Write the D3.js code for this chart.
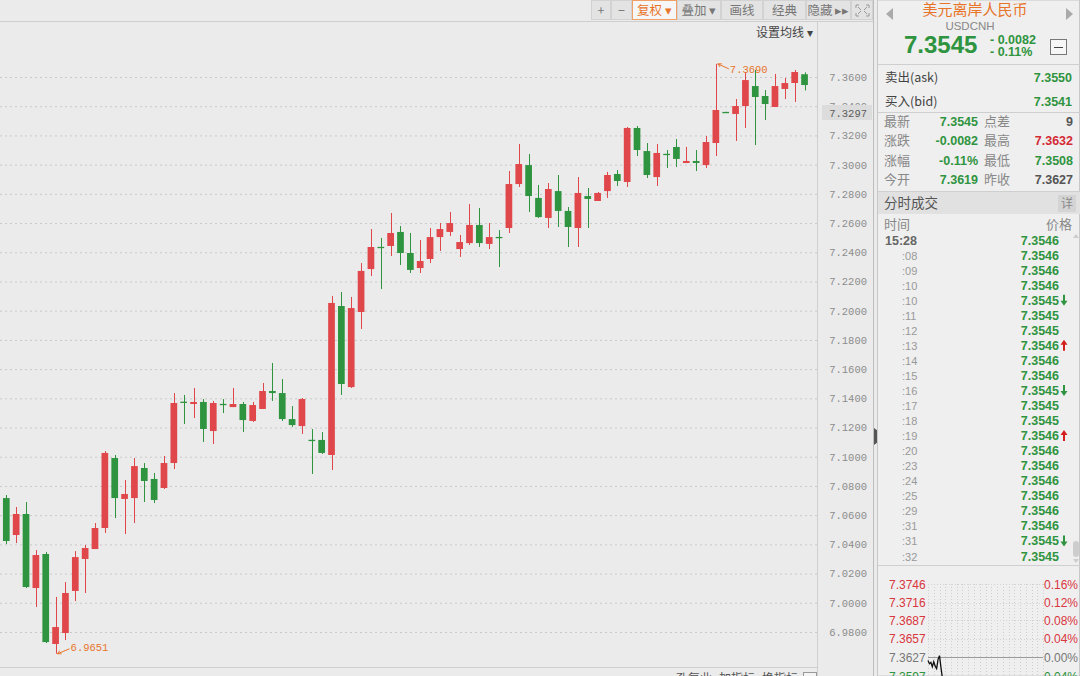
<!DOCTYPE html>
<html>
<head>
<meta charset="utf-8">
<script src="https://d3js.org/d3.v7.min.js"></script>
<style>
  body { margin: 0; background: #ebebeb; overflow: hidden; }
  svg { display: block; }
</style>
</head>
<body>
<svg width="1080" height="676"></svg>
<script>
  // daily candles, USDCNH (red = up, green = down)
  const opens  = [7.0957,7.0717,7.0464,7.0608,7.0101,7.0334,6.9718,6.9793,7.0081,7.0300,
                  7.0368,7.0512,7.0991,7.0711,7.0717,7.0923,7.0848,7.0786,7.0957,7.1377,
                  7.1361,7.1375,7.1176,7.1362,7.1340,7.1361,7.1245,7.1327,7.1450,7.1436,
                  7.1258,7.1210,7.1116,7.1115,7.1012,7.2032,7.1477,7.1991,7.2285,7.2437,
                  7.2443,7.2539,7.2395,7.2292,7.2354,7.2504,7.2539,7.2422,7.2463,7.2587,
                  7.2457,7.2505,7.2566,7.2867,7.2997,7.2772,7.2635,7.2819,7.2683,7.2566,
                  7.2785,7.2751,7.2819,7.2936,7.2881,7.3251,7.3093,7.2915,7.3074,7.3121,
                  7.3011,7.3025,7.2997,7.3148,7.3361,7.3347,7.3401,7.3538,7.3470,7.3395,
                  7.3518,7.3559,7.3619];
  const highs  = [7.0978,7.0738,7.0656,7.0690,7.0361,7.0348,7.0040,7.0142,7.0354,7.0396,
                  7.0546,7.1039,7.1012,7.0841,7.0991,7.0957,7.0889,7.1005,7.1436,7.1423,
                  7.1471,7.1395,7.1382,7.1395,7.1471,7.1375,7.1375,7.1505,7.1642,7.1532,
                  7.1347,7.1402,7.1190,7.1169,7.2101,7.2128,7.2094,7.2326,7.2559,7.2498,
                  7.2669,7.2580,7.2532,7.2484,7.2566,7.2600,7.2676,7.2518,7.2730,7.2703,
                  7.2600,7.2552,7.2956,7.3141,7.3073,7.2861,7.2874,7.2929,7.2710,7.2915,
                  7.2840,7.2813,7.2950,7.2963,7.3258,7.3264,7.3148,7.3141,7.3100,7.3175,
                  7.3121,7.3100,7.3196,7.3690,7.3362,7.3449,7.3634,7.3648,7.3511,7.3621,
                  7.3593,7.3648,7.3632];
  const lows   = [7.0669,7.0402,7.0409,7.0101,6.9971,6.9724,6.9651,6.9745,7.0012,7.0067,
                  7.0368,7.0478,7.0580,7.0471,7.0546,7.0690,7.0683,7.0779,7.0916,7.1224,
                  7.1265,7.1101,7.1087,7.1299,7.1340,7.1169,7.1238,7.1327,7.1382,7.1245,
                  7.1204,7.1156,7.0882,7.1019,7.0909,7.1423,7.1471,7.1875,7.2237,7.2148,
                  7.2374,7.2313,7.2258,7.2258,7.2326,7.2409,7.2511,7.2368,7.2450,7.2436,
                  7.2422,7.2299,7.2532,7.2847,7.2676,7.2635,7.2566,7.2573,7.2436,7.2436,
                  7.2566,7.2751,7.2772,7.2854,7.2847,7.3059,7.2908,7.2854,7.2977,7.2984,
                  7.3011,7.2956,7.2977,7.3059,7.3358,7.3162,7.3251,7.3134,7.3306,7.3395,
                  7.3449,7.3429,7.3508];
  const closes = [7.0717,7.0423,7.0608,7.0108,7.0327,6.9731,6.9834,7.0067,7.0313,7.0375,
                  7.0512,7.1026,7.0717,7.0745,7.0936,7.0834,7.0704,7.0957,7.1368,7.1373,
                  7.1375,7.1190,7.1368,7.1360,7.1361,7.1251,7.1354,7.1450,7.1436,7.1258,
                  7.1217,7.1395,7.1114,7.1026,7.2053,7.1498,7.2018,7.2272,7.2436,7.2435,
                  7.2532,7.2395,7.2279,7.2340,7.2504,7.2559,7.2600,7.2470,7.2587,7.2463,
                  7.2504,7.2503,7.2867,7.3004,7.2785,7.2641,7.2833,7.2683,7.2573,7.2806,
                  7.2765,7.2806,7.2929,7.2888,7.3251,7.3100,7.2929,7.3080,7.3072,7.3039,
                  7.3025,7.3011,7.3155,7.3374,7.3359,7.3401,7.3579,7.3463,7.3415,7.3538,
                  7.3559,7.3634,7.3545];
  const yTicks = d3.range(0, 20).map(i => 6.98 + i * 0.02);

  // quote panel
  const quoteRows = [
    ['最新', '7.3545', 'g', '点差', '9', 'n'],
    ['涨跌', '-0.0082', 'g', '最高', '7.3632', 'r'],
    ['涨幅', '-0.11%', 'g', '最低', '7.3508', 'g'],
    ['今开', '7.3619', 'g', '昨收', '7.3627', 'n']
  ];
  const tickTimes  = ['15:28', ':08', ':09', ':10', ':10', ':11', ':12', ':13', ':14', ':15', ':16',
                      ':17', ':18', ':19', ':20', ':23', ':24', ':25', ':29', ':31', ':31', ':32'];
  const tickPrices = ['7.3546','7.3546','7.3546','7.3546','7.3545','7.3545','7.3545','7.3546','7.3546','7.3546','7.3545',
                      '7.3545','7.3545','7.3546','7.3546','7.3546','7.3546','7.3546','7.3546','7.3546','7.3545','7.3545'];
  const tickArrows = ['', '', '', '', 'down', '', '', 'up', '', '', 'down',
                      '', '', 'up', '', '', '', '', '', '', 'down', ''];

  // intraday mini chart
  const miniLevels = [7.3746, 7.3716, 7.3687, 7.3657, 7.3627, 7.3597];
  const miniPct    = ['0.16%', '0.12%', '0.08%', '0.04%', '0.00%', '-0.04%'];
  const miniPrices = [7.3622, 7.3617, 7.3619, 7.3612, 7.3620, 7.3613, 7.3609, 7.3624, 7.3630, 7.3611, 7.3594];

  const RED = '#e0474a', GREEN = '#2f9440', ORANGE = '#e8742a';
  const CJK = '"Noto Sans CJK SC", sans-serif';
  const MONO = '"Liberation Mono", "DejaVu Sans Mono", monospace';
  const SANS = '"Liberation Sans", Arial, sans-serif';

  const svg = d3.select('svg');

  svg.append('rect').attr('width', 1080).attr('height', 676).attr('fill', '#ebebeb');

  // ---- main chart ----
  const y = d3.scaleLinear().domain([6.98, 7.36]).range([632, 77]);
  const x = d3.scaleBand().domain(d3.range(opens.length)).range([-6.9, 807.9]).paddingInner(0.32);
  const bw = x.bandwidth();

  // dotted grid
  const grid = svg.append('g')
    .attr('transform', 'translate(817,0)')
    .call(d3.axisLeft(y).tickValues(yTicks).tickSize(817).tickFormat(''));
  grid.select('.domain').remove();
  grid.selectAll('line').attr('stroke', '#c9c9c9').attr('stroke-dasharray', '2,3');

  svg.append('clipPath').attr('id', 'plot')
    .append('rect').attr('x', 0).attr('y', 22).attr('width', 817).attr('height', 645);

  const candles = svg.append('g').attr('clip-path', 'url(#plot)')
    .selectAll('g').data(opens).join('g');
  const col = i => closes[i] >= opens[i] ? RED : GREEN;

  candles.append('line')
    .attr('x1', (d, i) => Math.round(x(i) + bw / 2) + 0.5)
    .attr('x2', (d, i) => Math.round(x(i) + bw / 2) + 0.5)
    .attr('y1', (d, i) => y(highs[i]))
    .attr('y2', (d, i) => y(lows[i]))
    .attr('stroke', (d, i) => col(i))
    .attr('stroke-width', 1);

  candles.append('rect')
    .attr('x', (d, i) => x(i))
    .attr('y', (d, i) => y(Math.max(opens[i], closes[i])))
    .attr('width', bw)
    .attr('height', (d, i) => Math.max(1.3, Math.abs(y(opens[i]) - y(closes[i]))))
    .attr('fill', (d, i) => col(i));

  // high / low markers
  const iHi = d3.maxIndex(highs), iLo = d3.minIndex(lows);
  const hx = x(iHi) + bw / 2, hy = y(highs[iHi]);
  const lx = x(iLo) + bw / 2, ly = y(lows[iLo]);
  const marks = svg.append('g').attr('fill', 'none').attr('stroke', ORANGE).attr('stroke-width', 1);
  marks.append('path').attr('d', `M${hx + 2},${hy} L${hx + 13},${hy + 5} M${hx + 2},${hy} l4,0 M${hx + 2},${hy} l2,3`);
  marks.append('path').attr('d', `M${lx + 2},${ly} L${lx + 14},${ly - 5} M${lx + 2},${ly} l4,0 M${lx + 2},${ly} l2,-3`);
  svg.append('text').attr('x', hx + 14).attr('y', hy + 9).text(d3.format('.4f')(highs[iHi]))
    .attr('fill', ORANGE).attr('font-family', MONO).attr('font-size', 10.5);
  svg.append('text').attr('x', lx + 15).attr('y', ly - 3).text(d3.format('.4f')(lows[iLo]))
    .attr('fill', ORANGE).attr('font-family', MONO).attr('font-size', 10.5);

  // right axis
  const axis = svg.append('g')
    .attr('transform', 'translate(867,0)')
    .call(d3.axisLeft(y).tickValues(yTicks).tickSize(0).tickPadding(0).tickFormat(d3.format('.4f')));
  axis.select('.domain').remove();
  axis.selectAll('text').attr('fill', '#8c8c8c').attr('font-family', MONO).attr('font-size', 10.5);

  // hover price box, sits over the 7.3400 label like in the app
  svg.append('rect').attr('x', 822).attr('y', 105).attr('width', 50).attr('height', 15).attr('fill', '#dcdcdc');
  svg.append('text').attr('x', 867).attr('y', 116.5).attr('text-anchor', 'end').text('7.3297')
    .attr('fill', '#5a5a5a').attr('font-family', MONO).attr('font-size', 10.5);

  // frame lines
  const frame = svg.append('g').attr('stroke', '#cfcfcf');
  frame.append('line').attr('x1', 0).attr('x2', 873).attr('y1', 21.5).attr('y2', 21.5);
  frame.append('line').attr('x1', 817.5).attr('x2', 817.5).attr('y1', 22).attr('y2', 676);
  frame.append('line').attr('x1', 0).attr('x2', 817).attr('y1', 667.5).attr('y2', 667.5);
  frame.append('line').attr('x1', 873.5).attr('x2', 873.5).attr('y1', 0).attr('y2', 676).attr('stroke', '#bdbdbd');
  svg.append('path').attr('d', 'M874,428 L878,431 L878,442 L874,445 Z').attr('fill', '#555');

  // toolbar
  const tools = [
    { t: '+', x: 591, w: 20 }, { t: '−', x: 611, w: 21 }, { t: '复权 ▾', x: 632, w: 45, on: true },
    { t: '叠加 ▾', x: 677, w: 44 }, { t: '画线', x: 721, w: 42 }, { t: '经典', x: 763, w: 43 },
    { t: '隐藏 ▸▸', x: 806, w: 45 }, { t: '', x: 851, w: 22 }
  ];
  const tb = svg.append('g').selectAll('g').data(tools).join('g');
  tb.append('rect').attr('x', d => d.x + 0.5).attr('y', 0.5).attr('width', d => d.w - 1).attr('height', 19)
    .attr('fill', d => d.on ? '#f6f6f6' : '#e3e3e3').attr('stroke', d => d.on ? '#f0a066' : '#d2d2d2');
  tb.append('text').attr('x', d => d.x + d.w / 2).attr('y', 15).attr('text-anchor', 'middle')
    .text(d => d.t).attr('font-family', CJK).attr('font-size', 12.5)
    .attr('fill', d => d.on ? ORANGE : '#777');
  svg.append('path').attr('d', 'M856,8 V5 H859 M866,5 H869 V8 M869,13 V16 H866 M859,16 H856 V13 M858,7 L861,10 M867,7 L864,10 M858,14 L861,11 M867,14 L864,11')
    .attr('fill', 'none').attr('stroke', '#999').attr('stroke-width', 1);

  svg.append('text').attr('x', 756).attr('y', 37).text('设置均线 ▾')
    .attr('font-family', CJK).attr('font-size', 12).attr('fill', '#444');

  // bottom indicator bar (cut by the window edge)
  const bottomLabels = ['孔复业', '加指标', '换指标'];
  svg.append('g').selectAll('text').data(bottomLabels).join('text')
    .attr('x', (d, i) => 676 + i * 43).attr('y', 683).text(d => d)
    .attr('font-family', CJK).attr('font-size', 12).attr('fill', '#555');
  svg.append('rect').attr('x', 803.5).attr('y', 672.5).attr('width', 13).attr('height', 10)
    .attr('fill', '#f4f4f4').attr('stroke', '#999');

  // ---- quote panel ----
  const P = svg.append('g');
  P.append('rect').attr('x', 877.5).attr('y', 0).attr('width', 202).attr('height', 676)
    .attr('fill', '#efefef').attr('stroke', '#c8c8c8');

  P.append('text').attr('x', 975).attr('y', 15).attr('text-anchor', 'middle').text('美元离岸人民币')
    .attr('font-family', CJK).attr('font-size', 15).attr('fill', ORANGE);
  P.append('path').attr('d', 'M893,8 L886,14 L893,20 Z').attr('fill', '#aaa');
  P.append('path').attr('d', 'M1066,8 L1073,14 L1066,20 Z').attr('fill', '#aaa');
  P.append('text').attr('x', 970).attr('y', 30).attr('text-anchor', 'middle').text('USDCNH')
    .attr('font-family', SANS).attr('font-size', 11.5).attr('fill', '#888');
  P.append('text').attr('x', 904).attr('y', 53).text('7.3545')
    .attr('font-family', SANS).attr('font-weight', 'bold').attr('font-size', 24).attr('fill', GREEN);
  P.append('text').attr('x', 990).attr('y', 44).text('- 0.0082')
    .attr('font-family', SANS).attr('font-weight', 'bold').attr('font-size', 12.5).attr('fill', GREEN);
  P.append('text').attr('x', 990).attr('y', 56).text('- 0.11%')
    .attr('font-family', SANS).attr('font-weight', 'bold').attr('font-size', 12.5).attr('fill', GREEN);
  P.append('rect').attr('x', 1050.5).attr('y', 39.5).attr('width', 16).attr('height', 15)
    .attr('fill', '#f6f6f6').attr('stroke', '#777');
  P.append('line').attr('x1', 1054).attr('x2', 1063).attr('y1', 47.5).attr('y2', 47.5).attr('stroke', '#444');

  const hline = yy => P.append('line').attr('x1', 878).attr('x2', 1080).attr('y1', yy).attr('y2', yy).attr('stroke', '#cfcfcf');
  hline(64.5); hline(112.5); hline(191.5); hline(565.5);

  [['卖出(ask)', '7.3550', 82], ['买入(bid)', '7.3541', 106]].forEach(r => {
    P.append('text').attr('x', 885).attr('y', r[2]).text(r[0])
      .attr('font-family', CJK).attr('font-size', 12.5).attr('fill', '#444');
    P.append('text').attr('x', 1072).attr('y', r[2]).attr('text-anchor', 'end').text(r[1])
      .attr('font-family', SANS).attr('font-weight', 'bold').attr('font-size', 12.5).attr('fill', GREEN);
  });

  const qc = c => c === 'g' ? GREEN : c === 'r' ? '#d42a35' : '#555';
  quoteRows.forEach((r, i) => {
    const yy = 126 + i * 19.4;
    P.append('text').attr('x', 884).attr('y', yy).text(r[0]).attr('font-family', CJK).attr('font-size', 13).attr('fill', '#888');
    P.append('text').attr('x', 978).attr('y', yy).attr('text-anchor', 'end').text(r[1])
      .attr('font-family', SANS).attr('font-weight', 'bold').attr('font-size', 12.5).attr('fill', qc(r[2]));
    P.append('text').attr('x', 984).attr('y', yy).text(r[3]).attr('font-family', CJK).attr('font-size', 13).attr('fill', '#888');
    P.append('text').attr('x', 1073).attr('y', yy).attr('text-anchor', 'end').text(r[4])
      .attr('font-family', SANS).attr('font-weight', 'bold').attr('font-size', 12.5).attr('fill', qc(r[5]));
  });

  P.append('rect').attr('x', 878).attr('y', 192).attr('width', 202).attr('height', 22).attr('fill', '#e1e1e1');
  P.append('text').attr('x', 884).attr('y', 208).text('分时成交').attr('font-family', CJK).attr('font-size', 13.5).attr('fill', '#555');
  P.append('rect').attr('x', 1058).attr('y', 195).attr('width', 18).attr('height', 17).attr('fill', '#d4d4d4');
  P.append('text').attr('x', 1067).attr('y', 208).attr('text-anchor', 'middle').text('详').attr('font-family', CJK).attr('font-size', 12).attr('fill', '#888');
  P.append('text').attr('x', 884).attr('y', 229).text('时间').attr('font-family', CJK).attr('font-size', 13).attr('fill', '#888');
  P.append('text').attr('x', 1072).attr('y', 229).attr('text-anchor', 'end').text('价格').attr('font-family', CJK).attr('font-size', 13).attr('fill', '#888');

  // tick list: time, price, direction arrow
  const ticks = tickTimes.map((t, i) => ({ t, p: tickPrices[i], a: tickArrows[i], i }));
  const rows = P.append('g').selectAll('g').data(ticks).join('g')
    .attr('transform', d => `translate(0,${d.i === 0 ? 244.5 : 259.5 + (d.i - 1) * 15.05})`);
  rows.append('text').attr('x', d => d.i === 0 ? 885 : 902).text(d => d.t)
    .attr('font-family', SANS).attr('font-size', d => d.i === 0 ? 12.5 : 11)
    .attr('font-weight', d => d.i === 0 ? 'bold' : 'normal')
    .attr('fill', d => d.i === 0 ? '#666' : '#999');
  rows.append('text').attr('x', 1059).attr('text-anchor', 'end').text(d => d.p)
    .attr('font-family', SANS).attr('font-weight', 'bold').attr('font-size', 12.5).attr('fill', GREEN);
  rows.filter(d => d.a !== '').append('path')
    .attr('d', d => d.a === 'down'
      ? 'M1063,-10 h2 v6 h2.5 l-3.5,5 l-3.5,-5 h2.5 Z'
      : 'M1063,1 h2 v-6 h2.5 l-3.5,-5 l-3.5,5 h2.5 Z')
    .attr('fill', d => d.a === 'down' ? GREEN : '#d41e1e');

  // scroll bar
  P.append('path').attr('d', 'M1073,238 L1076,234 L1079,238 Z').attr('fill', '#ccc');
  P.append('rect').attr('x', 1073).attr('y', 541).attr('width', 6).attr('height', 16).attr('rx', 3).attr('fill', '#cdcdcd');
  P.append('path').attr('d', 'M1073,559 L1076,563 L1079,559 Z').attr('fill', '#ccc');

  // mini intraday chart
  const my = d3.scaleLinear().domain([7.3597, 7.3746]).range([676, 584]);
  const mx = d3.scaleLinear().domain([0, 80]).range([928, 1043]);
  const mg = P.append('g');
  mg.selectAll('line.v').data(d3.range(0, 81, 4)).join('line')
    .attr('x1', d => Math.round(mx(d)) + 0.5).attr('x2', d => Math.round(mx(d)) + 0.5)
    .attr('y1', my(7.3746)).attr('y2', 676)
    .attr('stroke', '#cfcfcf').attr('stroke-dasharray', '1,2');
  mg.selectAll('line.h').data(miniLevels).join('line')
    .attr('x1', mx(0)).attr('x2', mx(80)).attr('y1', d => Math.round(my(d)) + 0.5).attr('y2', d => Math.round(my(d)) + 0.5)
    .attr('stroke', (d, i) => i === 4 ? '#9a9a9a' : '#d3d3d3')
    .attr('stroke-dasharray', (d, i) => i === 4 ? null : '1,2');
  mg.selectAll('text.l').data(miniLevels).join('text')
    .attr('x', 889).attr('y', d => my(d) + 4.5).text(d => d3.format('.4f')(d))
    .attr('font-family', SANS).attr('font-size', 12)
    .attr('fill', (d, i) => i < 4 ? '#d9363e' : i === 4 ? '#777' : GREEN);
  mg.selectAll('text.r').data(miniPct).join('text')
    .attr('x', 1078).attr('y', (d, i) => my(miniLevels[i]) + 4.5).attr('text-anchor', 'end').text(d => d)
    .attr('font-family', SANS).attr('font-size', 12)
    .attr('fill', (d, i) => i < 4 ? '#d9363e' : i === 4 ? '#777' : GREEN);
  mg.append('path').datum(miniPrices)
    .attr('d', d3.line().x((d, i) => mx(i)).y(d => my(d)))
    .attr('fill', 'none').attr('stroke', '#111').attr('stroke-width', 1.3);
</script>
</body>
</html>
